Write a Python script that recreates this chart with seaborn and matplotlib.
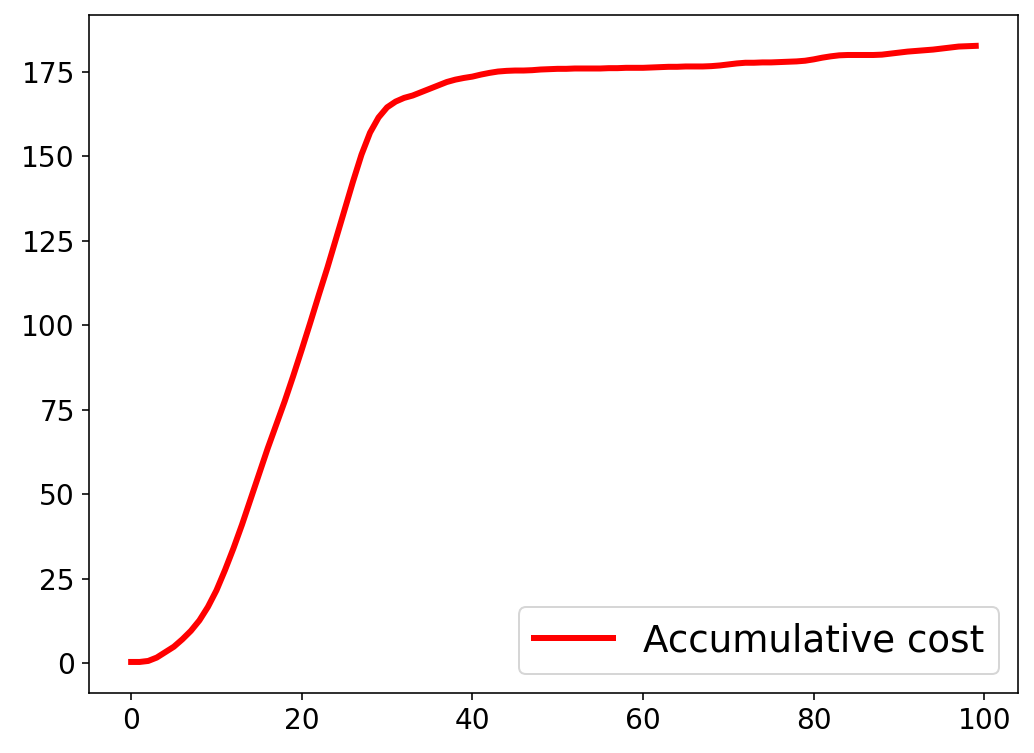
import numpy as np
import pandas as pd
import seaborn as sns
import matplotlib.pyplot as plt

OUT_PATH = 'out.png'

# Coste acumulado por paso
steps = list(range(100))
cost = [
    0.3, 0.3, 0.6, 1.6, 3.2, 4.8, 7.0, 9.5, 12.6, 16.6,
    21.5, 27.5, 34.0, 41.0, 48.5, 56.0, 63.5, 70.5, 77.5, 85.0,
    92.8, 100.8, 109.0, 117.0, 125.5, 134.0, 142.5, 150.5, 157.0, 161.5,
    164.5, 166.2, 167.3, 168.0, 169.0, 170.0, 171.0, 172.0, 172.7, 173.2,
    173.6, 174.2, 174.7, 175.1, 175.3, 175.4, 175.4, 175.5, 175.7, 175.8,
    175.9, 175.9, 176.0, 176.0, 176.0, 176.0, 176.1, 176.1, 176.2, 176.2,
    176.2, 176.3, 176.4, 176.5, 176.5, 176.6, 176.6, 176.6, 176.7, 176.9,
    177.2, 177.5, 177.7, 177.7, 177.8, 177.8, 177.9, 178.0, 178.1, 178.3,
    178.7, 179.2, 179.6, 179.9, 180.0, 180.0, 180.0, 180.0, 180.1, 180.4,
    180.7, 181.0, 181.2, 181.4, 181.6, 181.9, 182.2, 182.5, 182.6, 182.7,
]


def main():
    df = pd.DataFrame({'step': steps, 'cost': cost})

    fig = plt.figure(figsize=(1034 / 144, 753 / 144), dpi=144)
    ax = fig.add_axes([0.086, 0.080, 0.8985, 0.900])

    sns.lineplot(data=df, x='step', y='cost', color='red', linewidth=3,
                 label='Accumulative cost', ax=ax)

    ax.set_xlabel('')
    ax.set_ylabel('')
    ax.set_xticks([0, 20, 40, 60, 80, 100])
    ax.set_yticks([0, 25, 50, 75, 100, 125, 150, 175])
    ax.tick_params(labelsize=14)
    ax.legend(loc='lower right', fontsize=18.6, handlelength=2.15)

    fig.savefig(OUT_PATH, dpi=144)


if __name__ == '__main__':
    main()
